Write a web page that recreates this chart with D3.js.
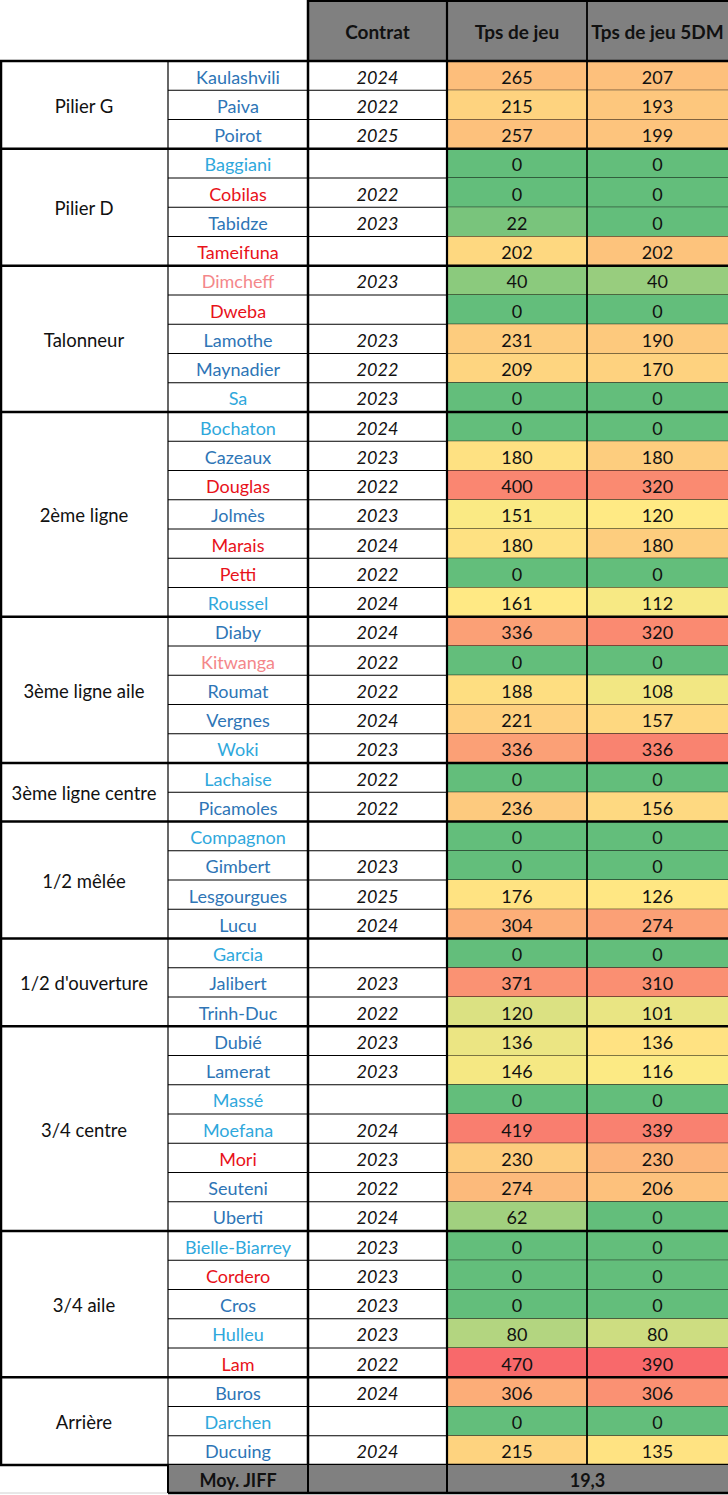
<!DOCTYPE html>
<html>
<head>
<meta charset="utf-8">
<script src="https://cdn.jsdelivr.net/npm/d3@7"></script>
<style>
  body { margin: 0; background: #fff; }
  svg text { font-family: Lato, "Open Sans", sans-serif; font-size: 18px; }
  svg text.head { font-size: 19px; }
  svg text.pos { font-size: 18.5px; }
</style>
</head>
<body>
<svg id="chart" width="728" height="1495"></svg>
<script>
// postes et nombre de joueurs par poste
var positions = ["Pilier G", "Pilier D", "Talonneur", "2ème ligne", "3ème ligne aile",
  "3ème ligne centre", "1/2 mêlée", "1/2 d'ouverture", "3/4 centre", "3/4 aile", "Arrière"];
var positionSizes = [3, 4, 5, 7, 5, 2, 4, 3, 7, 5, 3];

var players = ["Kaulashvili", "Paiva", "Poirot",
  "Baggiani", "Cobilas", "Tabidze", "Tameifuna",
  "Dimcheff", "Dweba", "Lamothe", "Maynadier", "Sa",
  "Bochaton", "Cazeaux", "Douglas", "Jolmès", "Marais", "Petti", "Roussel",
  "Diaby", "Kitwanga", "Roumat", "Vergnes", "Woki",
  "Lachaise", "Picamoles",
  "Compagnon", "Gimbert", "Lesgourgues", "Lucu",
  "Garcia", "Jalibert", "Trinh-Duc",
  "Dubié", "Lamerat", "Massé", "Moefana", "Mori", "Seuteni", "Uberti",
  "Bielle-Biarrey", "Cordero", "Cros", "Hulleu", "Lam",
  "Buros", "Darchen", "Ducuing"];

// type de joueur -> couleur du nom (b: bleu, c: bleu clair, r: rouge, p: rose)
var playerKinds = ["b", "b", "b",
  "c", "r", "b", "r",
  "p", "r", "b", "b", "c",
  "c", "b", "r", "b", "r", "r", "c",
  "b", "p", "b", "b", "c",
  "c", "b",
  "c", "b", "b", "b",
  "c", "b", "b",
  "b", "b", "c", "c", "r", "b", "b",
  "c", "r", "b", "c", "r",
  "b", "c", "b"];

var contracts = ["2024", "2022", "2025",
  "", "2022", "2023", "",
  "2023", "", "2023", "2022", "2023",
  "2024", "2023", "2022", "2023", "2024", "2022", "2024",
  "2024", "2022", "2022", "2024", "2023",
  "2022", "2022",
  "", "2023", "2025", "2024",
  "", "2023", "2022",
  "2023", "2023", "", "2024", "2023", "2022", "2024",
  "2023", "2023", "2023", "2023", "2022",
  "2024", "", "2024"];

var tpsJeu = [265, 215, 257,
  0, 0, 22, 202,
  40, 0, 231, 209, 0,
  0, 180, 400, 151, 180, 0, 161,
  336, 0, 188, 221, 336,
  0, 236,
  0, 0, 176, 304,
  0, 371, 120,
  136, 146, 0, 419, 230, 274, 62,
  0, 0, 0, 80, 470,
  306, 0, 215];

var tpsJeu5DM = [207, 193, 199,
  0, 0, 0, 202,
  40, 0, 190, 170, 0,
  0, 180, 320, 120, 180, 0, 112,
  320, 0, 108, 157, 336,
  0, 156,
  0, 0, 126, 274,
  0, 310, 101,
  136, 116, 0, 339, 230, 206, 0,
  0, 0, 0, 80, 390,
  306, 0, 135];

var headers = ["Contrat", "Tps de jeu", "Tps de jeu 5DM"];
var footerLabel = "Moy. JIFF";
var footerValue = "19,3";

var kindColors = { b: "#2e75b6", c: "#2fa8dc", r: "#e8121a", p: "#f4878a" };

var svg = d3.select("#chart");
var W = 728;

// colonnes : poste, nom, contrat, tps, tps 5DM
var colX = [0, 168, 308, 447, 587, 728];
var headerH = 61;
var y = d3.scaleBand().domain(d3.range(players.length)).range([headerH, 1465]);
var footTop = 1465, footBot = 1493;

// échelle 3 couleurs façon Excel (min / médiane / max) par colonne
function colorScale(vals) {
  return d3.scaleLinear()
    .domain([d3.min(vals), d3.median(vals), d3.max(vals)])
    .range(["#63be7b", "#ffeb84", "#f8696b"]);
}
var c1 = colorScale(tpsJeu), c2 = colorScale(tpsJeu5DM);

// en-tête gris
svg.append("rect").attr("x", colX[2]).attr("y", 0)
  .attr("width", W - colX[2]).attr("height", headerH).attr("fill", "#808080");
headers.forEach(function(h, i) {
  svg.append("text").attr("class", "head")
    .attr("x", (colX[i + 2] + colX[i + 3]) / 2).attr("y", 31)
    .attr("text-anchor", "middle").attr("dominant-baseline", "central")
    .attr("font-weight", "bold").attr("fill", "#111")
    .text(h);
});

// cellules colorées
var rows = svg.append("g");
players.forEach(function(p, i) {
  var top = y(i), h = y.bandwidth(), cy = top + h / 2 + 1;
  rows.append("rect").attr("x", colX[3]).attr("y", top)
    .attr("width", colX[4] - colX[3]).attr("height", h).attr("fill", c1(tpsJeu[i]));
  rows.append("rect").attr("x", colX[4]).attr("y", top)
    .attr("width", colX[5] - colX[4]).attr("height", h).attr("fill", c2(tpsJeu5DM[i]));

  rows.append("text").attr("x", (colX[1] + colX[2]) / 2).attr("y", cy)
    .attr("text-anchor", "middle").attr("dominant-baseline", "central")
    .attr("fill", kindColors[playerKinds[i]]).text(p);
  rows.append("text").attr("x", (colX[2] + colX[3]) / 2).attr("y", cy)
    .attr("text-anchor", "middle").attr("dominant-baseline", "central")
    .attr("font-style", "italic").attr("fill", "#111").text(contracts[i]);
  rows.append("text").attr("x", (colX[3] + colX[4]) / 2).attr("y", cy)
    .attr("text-anchor", "middle").attr("dominant-baseline", "central")
    .attr("fill", "#111").text(tpsJeu[i]);
  rows.append("text").attr("x", (colX[4] + colX[5]) / 2).attr("y", cy)
    .attr("text-anchor", "middle").attr("dominant-baseline", "central")
    .attr("fill", "#111").text(tpsJeu5DM[i]);

  // fines lignes entre joueurs
  rows.append("line").attr("x1", colX[1]).attr("x2", W)
    .attr("y1", top + h).attr("y2", top + h)
    .attr("stroke", "#000").attr("stroke-width", 1);
});

// postes, avec bordures épaisses
var start = 0;
positions.forEach(function(pos, g) {
  var n = positionSizes[g];
  var top = y(start), bot = y(start + n - 1) + y.bandwidth();
  svg.append("text").attr("class", "pos")
    .attr("x", (colX[0] + colX[1]) / 2).attr("y", (top + bot) / 2 + 1)
    .attr("text-anchor", "middle").attr("dominant-baseline", "central")
    .attr("fill", "#111").text(pos);
  svg.append("line").attr("x1", 0).attr("x2", W).attr("y1", bot).attr("y2", bot)
    .attr("stroke", "#000").attr("stroke-width", 2.5);
  start += n;
});

// ligne sous l'en-tête
svg.append("line").attr("x1", 0).attr("x2", W).attr("y1", headerH).attr("y2", headerH)
  .attr("stroke", "#000").attr("stroke-width", 2.5);

// verticales
var vLines = [
  { x: 1, y1: headerH, y2: footTop, w: 2.5 },
  { x: colX[1], y1: headerH, y2: footBot, w: 1.2 },
  { x: colX[2], y1: 0, y2: footBot, w: 2.5 },
  { x: colX[3], y1: 0, y2: footBot, w: 2.2 },
  { x: colX[4], y1: 0, y2: footTop, w: 1.8 }
];
vLines.forEach(function(v) {
  svg.append("line").attr("x1", v.x).attr("x2", v.x).attr("y1", v.y1).attr("y2", v.y2)
    .attr("stroke", "#000").attr("stroke-width", v.w);
});
svg.append("line").attr("x1", colX[2]).attr("x2", W).attr("y1", 1).attr("y2", 1)
  .attr("stroke", "#000").attr("stroke-width", 2);

// ligne de pied
svg.append("rect").attr("x", colX[1]).attr("y", footTop)
  .attr("width", W - colX[1]).attr("height", footBot - footTop).attr("fill", "#808080");
svg.append("line").attr("x1", 0).attr("x2", colX[1]).attr("y1", footBot).attr("y2", footBot)
  .attr("stroke", "#d0d0d0").attr("stroke-width", 1);
svg.append("line").attr("x1", colX[1]).attr("x2", W).attr("y1", footBot).attr("y2", footBot)
  .attr("stroke", "#000").attr("stroke-width", 2.5);
[colX[1], colX[2], colX[3]].forEach(function(x) {
  svg.append("line").attr("x1", x).attr("x2", x).attr("y1", footTop).attr("y2", footBot)
    .attr("stroke", "#000").attr("stroke-width", 2);
});
svg.append("text").attr("x", (colX[1] + colX[2]) / 2).attr("y", (footTop + footBot) / 2 + 1)
  .attr("text-anchor", "middle").attr("dominant-baseline", "central")
  .attr("font-weight", "bold").attr("fill", "#111").text(footerLabel);
svg.append("text").attr("x", (colX[3] + W) / 2).attr("y", (footTop + footBot) / 2 + 1)
  .attr("text-anchor", "middle").attr("dominant-baseline", "central")
  .attr("font-weight", "bold").attr("fill", "#111").text(footerValue);
</script>
</body>
</html>
